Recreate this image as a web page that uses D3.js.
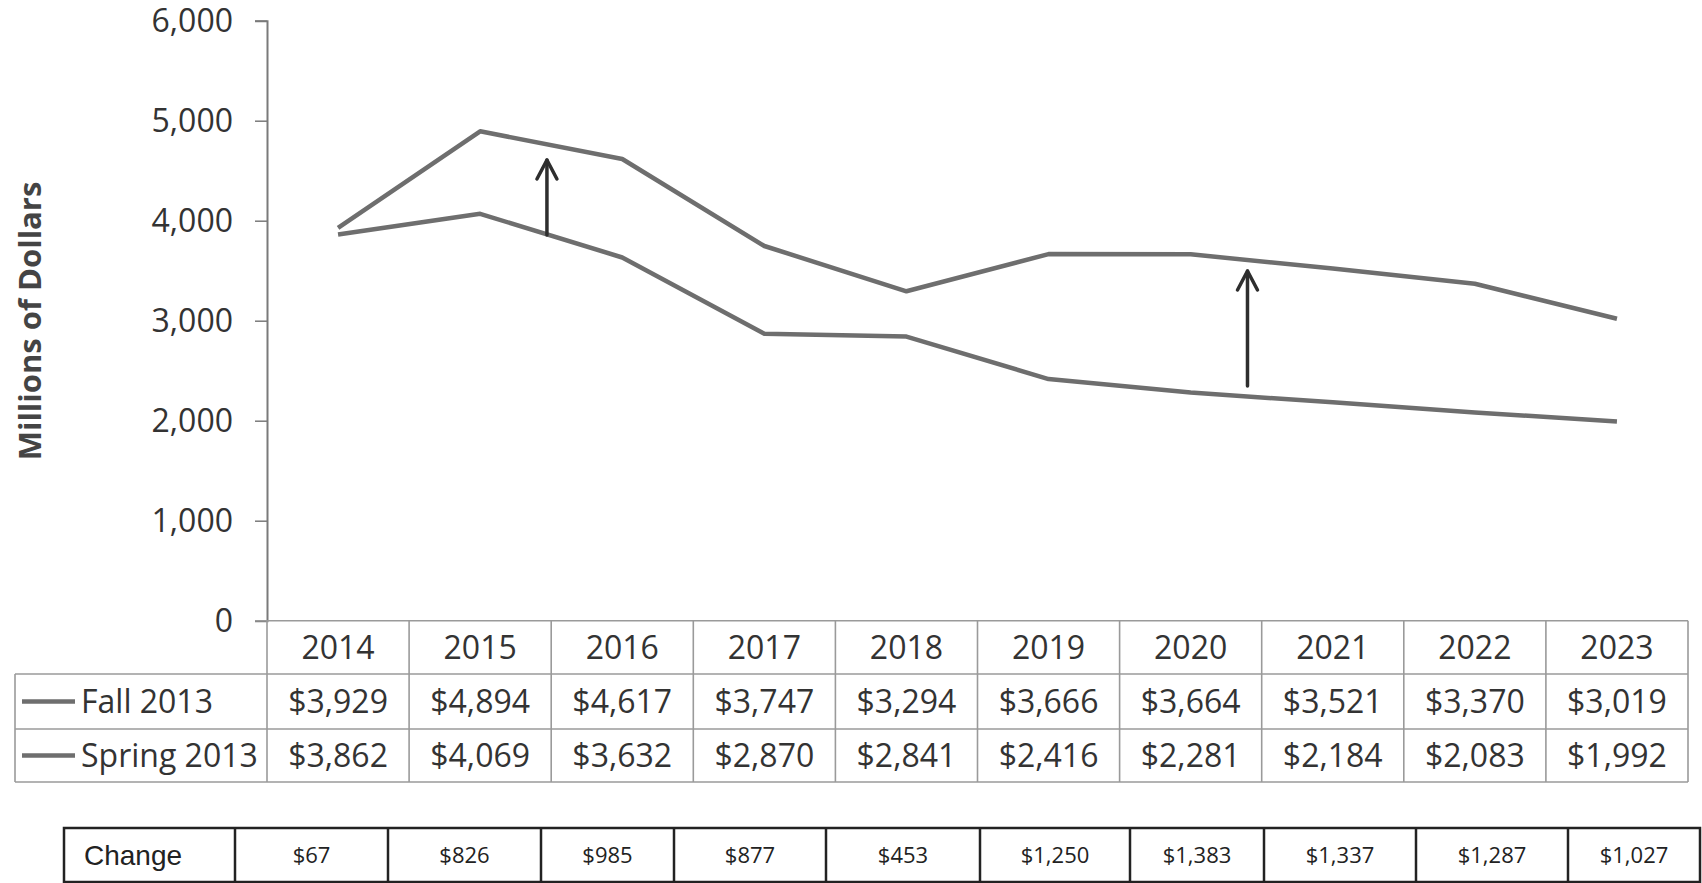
<!DOCTYPE html>
<html>
<head>
<meta charset="utf-8">
<script src="https://cdn.jsdelivr.net/npm/d3@7"></script>
<style>
  html, body { margin: 0; padding: 0; background: #fff; }
  svg { display: block; }
  text { font-family: "Open Sans", "DejaVu Sans", sans-serif; fill: #333; }
</style>
</head>
<body>
<svg id="chart" width="1702" height="883"></svg>
<script>
// Budget projections, millions of dollars
const years = [2014, 2015, 2016, 2017, 2018, 2019, 2020, 2021, 2022, 2023];
const fall2013 = [3929, 4894, 4617, 3747, 3294, 3666, 3664, 3521, 3370, 3019];
const spring2013 = [3862, 4069, 3632, 2870, 2841, 2416, 2281, 2184, 2083, 1992];
const changeVals = [67, 826, 985, 877, 453, 1250, 1383, 1337, 1287, 1027];
const yTicks = [0, 1000, 2000, 3000, 4000, 5000, 6000];
const seriesNames = ["Fall 2013", "Spring 2013"];
// Upward arrows between the two projections: start year, fraction toward next year, low and high values
const arrowYear = [2015, 2020];
const arrowFrac = [0.47, 0.40];
const arrowLow = [3857, 2347];
const arrowHigh = [4607, 3497];

const svg = d3.select("#chart");
const lineColor = "#6e6e6e";
const gridColor = "#9a9a9a";

const plotLeft = 267, plotRight = 1688;
const x = d3.scaleBand().domain(years).range([plotLeft, plotRight]).padding(0);
const y = d3.scaleLinear().domain([0, 6000]).range([620.7, 20.7]);
const cx = yr => x(yr) + x.bandwidth() / 2;

// Y axis
const yAxis = d3.axisLeft(y).tickValues(yTicks).tickFormat(d3.format(",")).tickSize(12).tickPadding(22);
const gy = svg.append("g").attr("transform", `translate(${plotLeft},0)`).call(yAxis);
gy.select(".domain").attr("stroke", "#7a7a7a").attr("stroke-width", 2);
gy.selectAll(".tick line").attr("stroke", "#7a7a7a").attr("stroke-width", 1.5);
gy.selectAll(".tick text").style("font-size", "32px").style("fill", "#333").attr("dy", "0.35em");

// Y axis title
svg.append("text")
  .attr("transform", `translate(41,321) rotate(-90)`)
  .attr("text-anchor", "middle")
  .style("font-size", "31px").style("font-weight", "bold").style("fill", "#444")
  .text("Millions of Dollars");

// Lines
const line = d3.line().x((d, i) => cx(years[i])).y(d => y(d));
[fall2013, spring2013].forEach(vals => {
  svg.append("path").datum(vals)
    .attr("d", line)
    .attr("fill", "none")
    .attr("stroke", lineColor)
    .attr("stroke-width", 4.5)
    .attr("stroke-linejoin", "round");
});

// Arrows
arrowYear.forEach((yr, i) => {
  const ax = cx(yr) + arrowFrac[i] * x.step();
  const y0 = y(arrowLow[i]), y1 = y(arrowHigh[i]);
  const g = svg.append("g").attr("stroke", "#2e2e2e").attr("stroke-width", 3.5).attr("fill", "none")
    .attr("stroke-linecap", "round").attr("stroke-linejoin", "round");
  g.append("line").attr("x1", ax).attr("x2", ax).attr("y1", y0).attr("y2", y1);
  g.append("polyline").attr("points", `${ax - 10},${y1 + 19} ${ax},${y1} ${ax + 10},${y1 + 19}`);
});

// Data table under the plot
const rowTop = [620.7, 674, 729];
const rowBot = [674, 729, 782];
const tableLeft = 15;
const tg = svg.append("g");
// horizontal rules
tg.append("line").attr("x1", 255).attr("x2", plotRight).attr("y1", rowTop[0]).attr("y2", rowTop[0]);
[674, 729, 782].forEach(v => tg.append("line").attr("x1", tableLeft).attr("x2", plotRight).attr("y1", v).attr("y2", v));
// vertical rules
tg.append("line").attr("x1", tableLeft).attr("x2", tableLeft).attr("y1", 674).attr("y2", 782);
years.forEach(yr => tg.append("line").attr("x1", x(yr)).attr("x2", x(yr)).attr("y1", rowTop[0]).attr("y2", 782));
tg.append("line").attr("x1", plotRight).attr("x2", plotRight).attr("y1", rowTop[0]).attr("y2", 782);
tg.selectAll("line").attr("stroke", gridColor).attr("stroke-width", 1.6);

// header
tg.selectAll("text.yr").data(years).join("text")
  .attr("x", d => cx(d)).attr("y", (rowTop[0] + rowBot[0]) / 2).attr("dy", "0.36em")
  .attr("text-anchor", "middle").style("font-size", "32px").text(d => d);

const money = d3.format("$,");
[fall2013, spring2013].forEach((vals, r) => {
  const ym = (rowTop[r + 1] + rowBot[r + 1]) / 2;
  tg.append("line").attr("x1", 22).attr("x2", 75).attr("y1", ym).attr("y2", ym)
    .attr("stroke", lineColor).attr("stroke-width", 4.5);
  tg.append("text").attr("x", 81).attr("y", ym).attr("dy", "0.36em")
    .style("font-size", "32px").text(seriesNames[r]);
  tg.selectAll(null).data(vals).join("text")
    .attr("x", (d, i) => cx(years[i])).attr("y", ym).attr("dy", "0.36em")
    .attr("text-anchor", "middle").style("font-size", "32px").text(d => money(d));
});

// Change table
const changeEdges = [64, 235, 388, 541, 674, 826, 980, 1130, 1264, 1416, 1568, 1700];
const cTop = 828, cBot = 882;
const cg = svg.append("g");
cg.append("rect").attr("x", changeEdges[0]).attr("y", cTop)
  .attr("width", changeEdges[changeEdges.length - 1] - changeEdges[0]).attr("height", cBot - cTop)
  .attr("fill", "none").attr("stroke", "#222").attr("stroke-width", 2.5);
changeEdges.slice(1, -1).forEach(e => cg.append("line").attr("x1", e).attr("x2", e).attr("y1", cTop).attr("y2", cBot)
  .attr("stroke", "#222").attr("stroke-width", 2.5));
cg.append("text").attr("x", changeEdges[0] + 20).attr("y", (cTop + cBot) / 2).attr("dy", "0.36em")
  .style("font-family", "'Liberation Sans', Arial, sans-serif").style("font-size", "28px").style("fill", "#222")
  .text("Change");
cg.selectAll("text.cv").data(changeVals).join("text")
  .attr("x", (d, i) => (changeEdges[i + 1] + changeEdges[i + 2]) / 2).attr("y", (cTop + cBot) / 2).attr("dy", "0.36em")
  .attr("text-anchor", "middle").style("font-size", "22px").style("fill", "#222")
  .text(d => money(d));
</script>
</body>
</html>
